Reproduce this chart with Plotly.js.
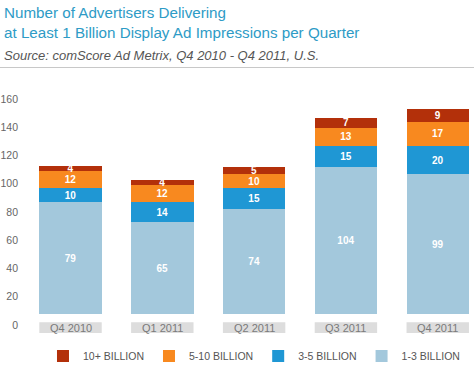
<!DOCTYPE html>
<html>
<head>
<meta charset="utf-8">
<script src="https://cdn.plot.ly/plotly-3.0.1.min.js"></script>
<style>
html,body{margin:0;padding:0;background:#fff;}
#chart{width:474px;height:366px;}
</style>
</head>
<body>
<div id="chart"></div>
<script>
const quarters = ["Q4 2010", "Q1 2011", "Q2 2011", "Q3 2011", "Q4 2011"];
const b1to3 = [79, 65, 74, 104, 99];
const b3to5 = [10, 14, 15, 15, 20];
const b5to10 = [12, 12, 10, 13, 17];
const b10plus = [4, 4, 5, 7, 9];
const yTickLabels = [0, 20, 40, 60, 80, 100, 120, 140, 160];

const seriesNames = ["1-3 BILLION", "3-5 BILLION", "5-10 BILLION", "10+ BILLION"];
const seriesColors = ["#a3c8dc", "#1f97d4", "#f8891f", "#b3300a"];
const seriesValues = [b1to3, b3to5, b5to10, b10plus];

const baseOffset = 7.8; // axis zero sits below the bar baseline in the original
const idx = quarters.map((q, i) => i);
const FONT = "Liberation Sans, Arial, sans-serif";

const traces = seriesValues.map((vals, s) => ({
  type: "bar",
  name: seriesNames[s],
  x: idx,
  y: vals,
  marker: {color: seriesColors[s], line: {width: 0}},
  text: vals.map(String),
  textposition: "inside",
  insidetextanchor: "middle",
  constraintext: "none",
  textangle: 0,
  textfont: {family: FONT, size: 10, color: "#ffffff", weight: "bold"},
  hoverinfo: "skip"
}));

const shapes = idx.map(i => ({
  type: "rect", xref: "x", yref: "y",
  x0: i - 0.34, x1: i + 0.34, y0: -13.5, y1: -5.9,
  fillcolor: "#dddddd", line: {width: 0}, layer: "below"
}));
shapes.push({type: "line", xref: "paper", yref: "paper", x0: -0.06, x1: 1, y0: 1.09, y1: 1.09,
  line: {color: "#c8c8c8", width: 1}});

const annotations = idx.map(i => ({
  xref: "x", yref: "y", x: i, y: -9.7, text: quarters[i], showarrow: false,
  font: {family: FONT, size: 11, color: "#7a7a7a"},
  xanchor: "center", yanchor: "middle"
}));
annotations.push({
  xref: "paper", yref: "paper", x: -0.052, y: 1.19, xanchor: "left", yanchor: "bottom",
  showarrow: false, align: "left",
  text: "Number of Advertisers Delivering<br>at Least 1 Billion Display Ad Impressions per Quarter",
  font: {family: FONT, size: 15.2, color: "#2e9bc6"}
});
annotations.push({
  xref: "paper", yref: "paper", x: -0.052, y: 1.10, xanchor: "left", yanchor: "bottom",
  showarrow: false, align: "left",
  text: "<i>Source: comScore Ad Metrix, Q4 2010 - Q4 2011, U.S.</i>",
  font: {family: FONT, size: 13, color: "#555555"}
});

const layout = {
  width: 474, height: 366,
  margin: {l: 25, r: 0, t: 90, b: 26, autoexpand: false},
  paper_bgcolor: "#ffffff", plot_bgcolor: "#ffffff",
  barmode: "stack", bargap: 0.32,
  showlegend: true,
  legend: {orientation: "h", traceorder: "reversed", x: 0.51, xanchor: "center",
    y: -0.064, yanchor: "middle",
    font: {family: FONT, size: 10.5, color: "#555555"},
    itemwidth: 30},
  xaxis: {range: [-0.4956, 4.395], showticklabels: false, showgrid: false, zeroline: false,
    showline: false, ticks: "", fixedrange: true},
  yaxis: {range: [-18.4, 158.6], tickvals: yTickLabels.map(v => v - baseOffset),
    ticktext: yTickLabels.map(String), showgrid: false, zeroline: false, showline: false,
    ticks: "", ticklabelstandoff: 6,
    tickfont: {family: FONT, size: 10.5, color: "#666666"}},
  shapes: shapes,
  annotations: annotations
};

Plotly.newPlot("chart", traces, layout, {displayModeBar: false, staticPlot: true});
</script>
</body>
</html>
